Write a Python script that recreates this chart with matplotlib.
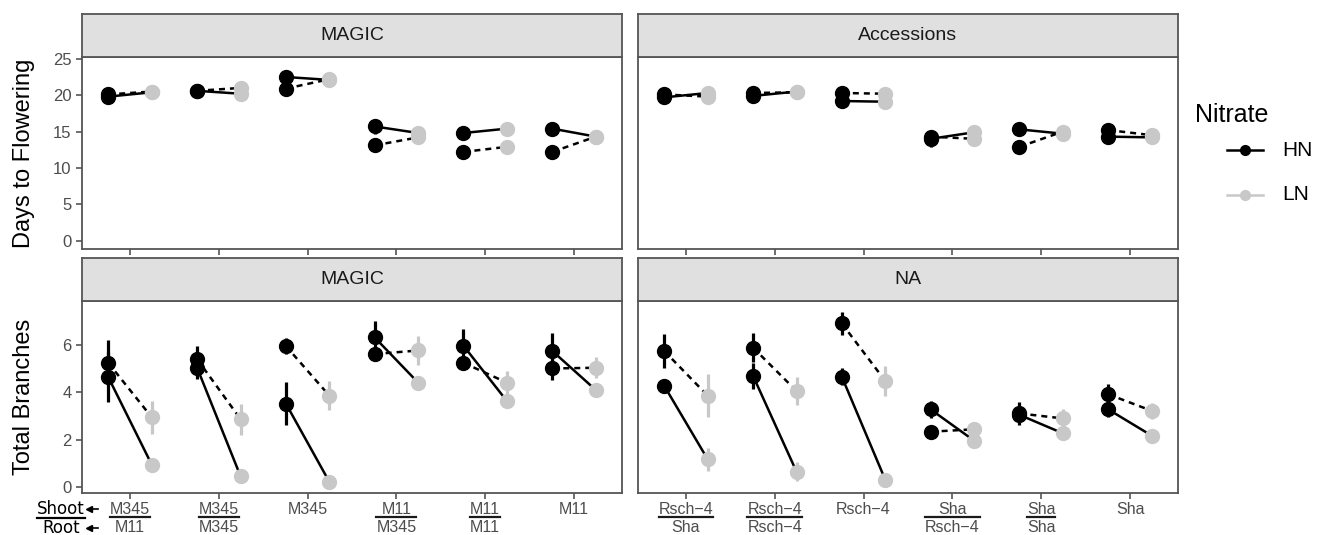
import matplotlib
matplotlib.use("Agg")
import matplotlib.pyplot as plt
from matplotlib.lines import Line2D
import numpy as np

plt.rcParams['font.family'] = ['Liberation Sans', 'DejaVu Sans']

W, H = 1325, 535

# shoot / root genotype for each graft combination (None root = ungrafted)
magic_shoot = ["M345", "M345", "M345", "M11", "M11", "M11"]
magic_root = ["M11", "M345", None, "M345", "M11", None]
acc_shoot = ["Rsch−4", "Rsch−4", "Rsch−4", "Sha", "Sha", "Sha"]
acc_root = ["Sha", "Rsch−4", None, "Rsch−4", "Sha", None]

# days to flowering, MAGIC lines (solid / dashed series, HN and LN means + SE)
dtf_magic_hn_solid = [19.8, 20.6, 22.5, 15.7, 14.8, 15.4]
dtf_magic_ln_solid = [20.4, 20.2, 22.1, 14.8, 15.4, 14.3]
dtf_magic_hn_dashed = [20.1, 20.6, 20.9, 13.1, 12.2, 12.2]
dtf_magic_ln_dashed = [20.5, 21.0, 22.2, 14.2, 12.9, 14.3]
dtf_magic_hn_solid_se = [0.4, 0.3, 0.4, 1.0, 0.6, 0.6]
dtf_magic_ln_solid_se = [0.5, 0.4, 0.6, 0.8, 0.6, 0.6]
dtf_magic_hn_dashed_se = [0.3, 0.2, 0.3, 0.3, 0.3, 0.3]
dtf_magic_ln_dashed_se = [0.4, 0.6, 0.4, 0.5, 0.3, 0.3]

# days to flowering, accessions
dtf_acc_hn_solid = [19.7, 19.9, 19.2, 14.0, 15.3, 14.3]
dtf_acc_ln_solid = [20.3, 20.5, 19.1, 14.9, 14.7, 14.2]
dtf_acc_hn_dashed = [20.1, 20.3, 20.3, 14.3, 12.9, 15.2]
dtf_acc_ln_dashed = [19.8, 20.4, 20.2, 14.0, 15.0, 14.5]
dtf_acc_hn_solid_se = [0.5, 0.4, 0.3, 1.1, 0.4, 0.3]
dtf_acc_ln_solid_se = [0.6, 0.5, 0.4, 0.6, 0.5, 0.4]
dtf_acc_hn_dashed_se = [0.9, 0.8, 0.4, 0.6, 0.8, 0.5]
dtf_acc_ln_dashed_se = [0.8, 0.6, 0.5, 0.5, 0.6, 0.5]

# total branches, MAGIC lines
br_magic_hn_solid = [4.65, 5.05, 3.53, 6.32, 5.97, 5.75]
br_magic_ln_solid = [0.95, 0.46, 0.22, 4.41, 3.63, 4.10]
br_magic_hn_dashed = [5.25, 5.41, 5.96, 5.62, 5.25, 5.01]
br_magic_ln_dashed = [2.95, 2.87, 3.86, 5.77, 4.41, 5.04]
br_magic_hn_solid_se = [1.05, 0.50, 0.90, 0.70, 0.70, 0.75]
br_magic_ln_solid_se = [0.15, 0.15, 0.10, 0.25, 0.20, 0.20]
br_magic_hn_dashed_se = [0.95, 0.55, 0.35, 0.30, 0.30, 0.50]
br_magic_ln_dashed_se = [0.70, 0.65, 0.60, 0.60, 0.50, 0.45]

# total branches, accessions
br_acc_hn_solid = [4.28, 4.70, 4.66, 3.28, 3.05, 3.28]
br_acc_ln_solid = [1.17, 0.65, 0.30, 1.96, 2.27, 2.17]
br_acc_hn_dashed = [5.75, 5.89, 6.91, 2.34, 3.11, 3.92]
br_acc_ln_dashed = [3.86, 4.06, 4.48, 2.44, 2.90, 3.22]
br_acc_hn_solid_se = [0.30, 0.55, 0.35, 0.35, 0.30, 0.30]
br_acc_ln_solid_se = [0.50, 0.40, 0.10, 0.20, 0.20, 0.20]
br_acc_hn_dashed_se = [0.70, 0.60, 0.50, 0.25, 0.50, 0.45]
br_acc_ln_dashed_se = [0.90, 0.60, 0.65, 0.20, 0.40, 0.35]

HN_COL = "black"
LN_COL = "#C8C8C8"
EDGE = "#555555"
TICK_TXT = "#4D4D4D"
DODGE = 0.245

fig = plt.figure(figsize=(W / 100, H / 100), dpi=100)


def px_axes(x0, y0, x1, y1):
    return fig.add_axes([x0 / W, 1 - y1 / H, (x1 - x0) / W, (y1 - y0) / H])


def strip(x0, y0, x1, y1, label):
    s = px_axes(x0, y0, x1, y1)
    s.set_facecolor("#E0E0E0")
    s.set_xticks([]); s.set_yticks([])
    for sp in s.spines.values():
        sp.set_color(EDGE); sp.set_linewidth(1.3)
    s.text(0.5, 0.5, label, ha="center", va="center", fontsize=14, color="#1A1A1A",
           transform=s.transAxes)


def panel(ax, hn_s, ln_s, hn_d, ln_d, hn_s_se, ln_s_se, hn_d_se, ln_d_se):
    x = np.arange(1, 7)
    xh, xl = x - DODGE, x + DODGE
    for hn, ln, hse, lse, ls in [(hn_s, ln_s, hn_s_se, ln_s_se, "-"),
                                 (hn_d, ln_d, hn_d_se, ln_d_se, (0, (2.4, 2)))]:
        hn, ln, hse, lse = map(np.asarray, (hn, ln, hse, lse))
        ax.vlines(xh, hn - hse, hn + hse, color=HN_COL, lw=2.3, zorder=2)
        ax.vlines(xl, ln - lse, ln + lse, color=LN_COL, lw=2.3, zorder=2)
        for i in range(6):
            ax.plot([xh[i], xl[i]], [hn[i], ln[i]], color="black", lw=1.8,
                    linestyle=ls, zorder=3)
        ax.plot(xh, hn, "o", color=HN_COL, ms=10, zorder=4)
        ax.plot(xl, ln, "o", color=LN_COL, ms=10, zorder=4)
    ax.set_xlim(0.46, 6.54)
    ax.set_xticks(x)
    ax.set_xticklabels([""] * 6)
    ax.tick_params(length=4, width=1.2, color=EDGE, labelcolor=TICK_TXT, labelsize=12)
    for sp in ax.spines.values():
        sp.set_color(EDGE); sp.set_linewidth(1.3)


LX0, LX1, RX0, RX1 = 82, 622, 638, 1178

ax_tl = px_axes(LX0, 57, LX1, 249)
ax_tr = px_axes(RX0, 57, RX1, 249)
ax_bl = px_axes(LX0, 301, LX1, 493)
ax_br = px_axes(RX0, 301, RX1, 493)

strip(LX0, 14, LX1, 57, "MAGIC")
strip(RX0, 14, RX1, 57, "Accessions")
strip(LX0, 258, LX1, 301, "MAGIC")
strip(RX0, 258, RX1, 301, "NA")

panel(ax_tl, dtf_magic_hn_solid, dtf_magic_ln_solid, dtf_magic_hn_dashed, dtf_magic_ln_dashed,
      dtf_magic_hn_solid_se, dtf_magic_ln_solid_se, dtf_magic_hn_dashed_se, dtf_magic_ln_dashed_se)
panel(ax_tr, dtf_acc_hn_solid, dtf_acc_ln_solid, dtf_acc_hn_dashed, dtf_acc_ln_dashed,
      dtf_acc_hn_solid_se, dtf_acc_ln_solid_se, dtf_acc_hn_dashed_se, dtf_acc_ln_dashed_se)
panel(ax_bl, br_magic_hn_solid, br_magic_ln_solid, br_magic_hn_dashed, br_magic_ln_dashed,
      br_magic_hn_solid_se, br_magic_ln_solid_se, br_magic_hn_dashed_se, br_magic_ln_dashed_se)
panel(ax_br, br_acc_hn_solid, br_acc_ln_solid, br_acc_hn_dashed, br_acc_ln_dashed,
      br_acc_hn_solid_se, br_acc_ln_solid_se, br_acc_hn_dashed_se, br_acc_ln_dashed_se)

for ax in (ax_tl, ax_tr):
    ax.set_ylim(-1.15, 25.25)
    ax.set_yticks(range(0, 26, 5))
for ax in (ax_bl, ax_br):
    ax.set_ylim(-0.25, 7.86)
    ax.set_yticks([0, 2, 4, 6])
for ax in (ax_tr, ax_br):
    ax.tick_params(axis="y", left=False, labelleft=False)

fig.text(24 / W, 1 - 153 / H, "Days to Flowering", rotation=90, ha="center", va="center", fontsize=17)
fig.text(24 / W, 1 - 397 / H, "Total Branches", rotation=90, ha="center", va="center", fontsize=17)

# shoot-over-root tick labels with a fraction bar between them
bars = []
for ax, shoots, roots in [(ax_bl, magic_shoot, magic_root), (ax_br, acc_shoot, acc_root)]:
    for i, (sh, rt) in enumerate(zip(shoots, roots)):
        t1 = ax.annotate(sh, xy=(i + 1, 0), xycoords=("data", "axes fraction"),
                         xytext=(0, -16), textcoords="offset pixels",
                         ha="center", va="center", fontsize=11.5, color=TICK_TXT)
        if rt is None:
            continue
        t2 = ax.annotate(rt, xy=(i + 1, 0), xycoords=("data", "axes fraction"),
                         xytext=(0, -34), textcoords="offset pixels",
                         ha="center", va="center", fontsize=11.5, color=TICK_TXT)
        bars.append((ax, i + 1, t1, t2))

fig.canvas.draw()
renderer = fig.canvas.get_renderer()
for ax, xi, t1, t2 in bars:
    w = max(t1.get_window_extent(renderer).width, t2.get_window_extent(renderer).width)
    xc = ax.transData.transform((xi, 0))[0]
    fig.add_artist(Line2D([(xc - w / 2) / W, (xc + w / 2) / W], [1 - 517 / H] * 2,
                          color="#1A1A1A", lw=1.6, transform=fig.transFigure))

# Shoot / Root key at the left of the x labels
fig.text(61 / W, 1 - 509 / H, "Shoot", ha="center", va="center", fontsize=12, family="DejaVu Sans")
fig.text(61 / W, 1 - 528 / H, "Root", ha="center", va="center", fontsize=12, family="DejaVu Sans")
fig.add_artist(Line2D([37 / W, 85 / W], [1 - 518 / H] * 2, color="black", lw=1.6,
                      transform=fig.transFigure))
for yy in (509, 528):
    fig.add_artist(Line2D([89 / W, 98 / W], [1 - yy / H] * 2, color="black", lw=1.2,
                          transform=fig.transFigure))
    fig.add_artist(Line2D([89 / W], [1 - yy / H], marker="<", ms=4, color="black",
                          transform=fig.transFigure))

# legend
fig.text(1195 / W, 1 - 115 / H, "Nitrate", ha="left", va="center", fontsize=18)
for yy, lab, col in [(150, "HN", HN_COL), (195, "LN", LN_COL)]:
    fig.add_artist(Line2D([1227 / W, 1263 / W], [1 - yy / H] * 2, color=col, lw=1.8,
                          transform=fig.transFigure))
    fig.add_artist(Line2D([1245 / W], [1 - yy / H], marker="o", ms=7, color=col,
                          transform=fig.transFigure))
    fig.text(1282 / W, 1 - yy / H, lab, ha="left", va="center", fontsize=15)

fig.savefig("out.png", dpi=100)
